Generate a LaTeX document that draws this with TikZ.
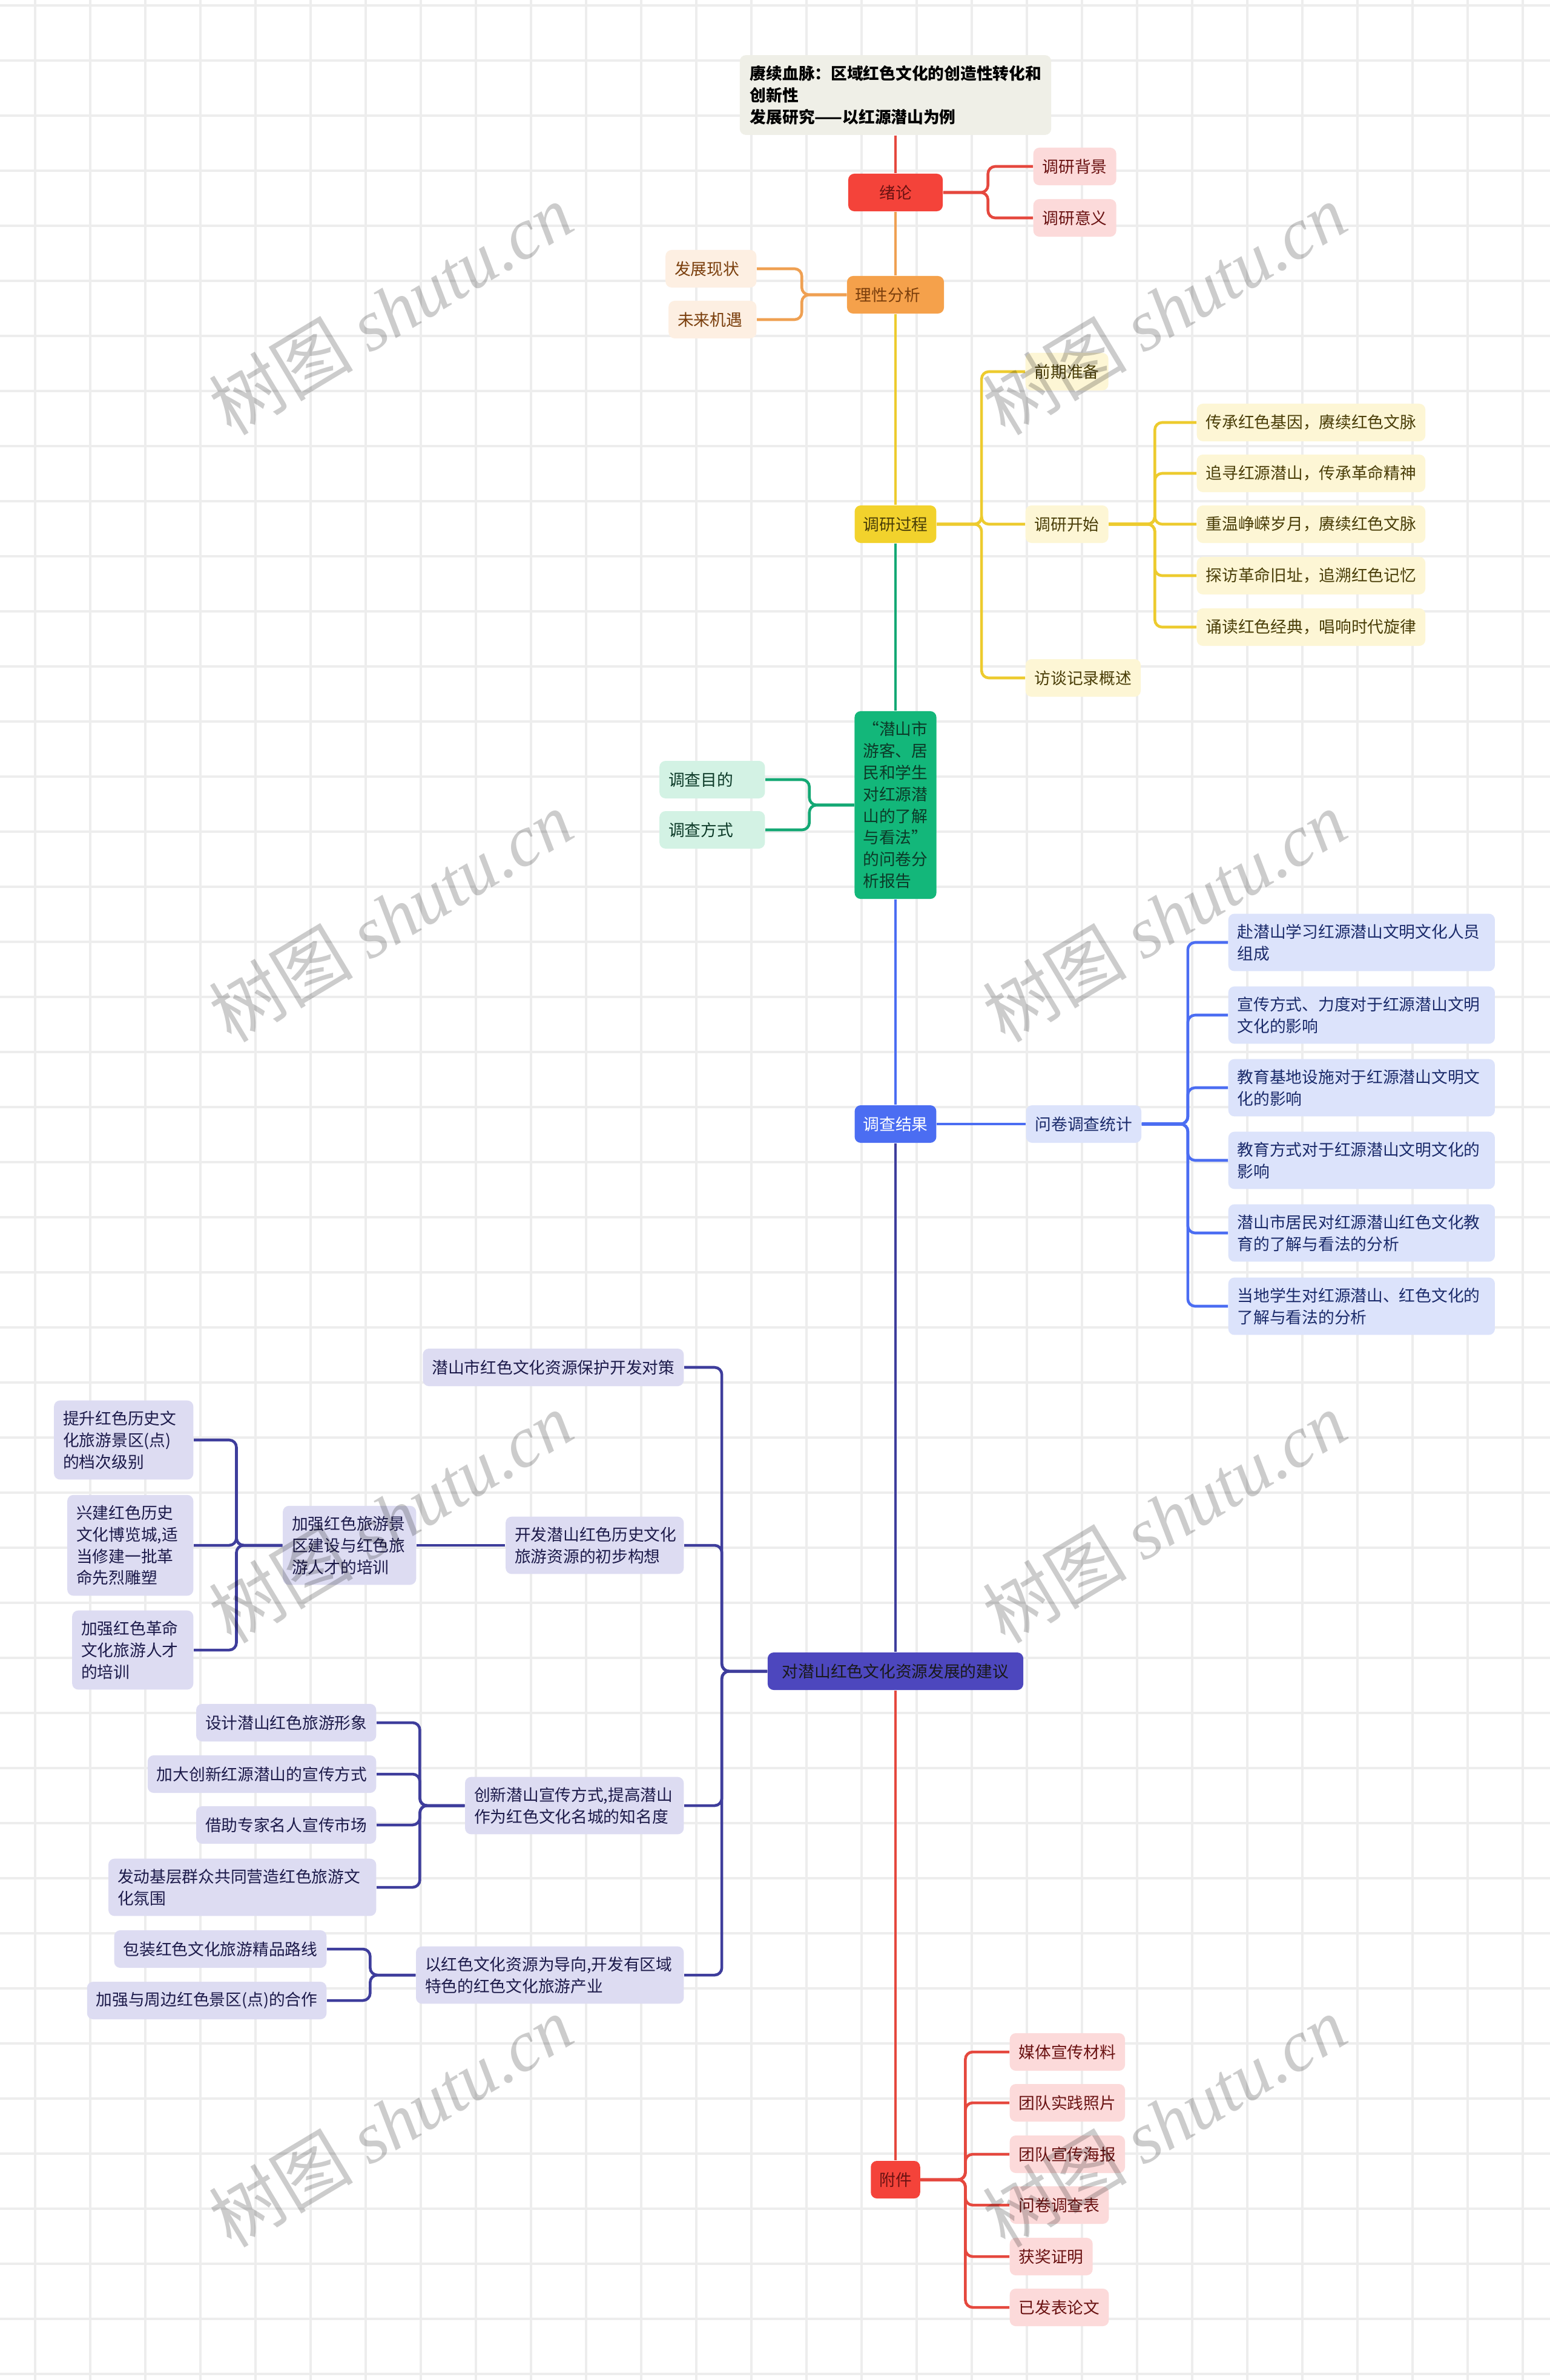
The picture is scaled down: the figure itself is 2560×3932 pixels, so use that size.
\documentclass[tikz,border=0pt]{standalone}
\usepackage{fontspec}
\setmainfont{Noto Sans CJK SC}
\newfontfamily\latinserif{Liberation Serif}
\usepackage{tikz}
\definecolor{hong}{HTML}{F4433A}
\definecolor{hongxian}{HTML}{E5483E}
\definecolor{hongqian}{HTML}{FCDADA}
\definecolor{hongzi}{HTML}{6A1212}
\definecolor{cheng}{HTML}{F5A14B}
\definecolor{chengxian}{HTML}{EFA052}
\definecolor{chengqian}{HTML}{FDEFE2}
\definecolor{chengzi}{HTML}{7A3E0C}
\definecolor{huang}{HTML}{F2D22C}
\definecolor{huangxian}{HTML}{EDCB2E}
\definecolor{huangqian}{HTML}{FDF6D5}
\definecolor{huangzi}{HTML}{4A3E08}
\definecolor{lv}{HTML}{13B77A}
\definecolor{lvxian}{HTML}{14A874}
\definecolor{lvqian}{HTML}{D3F2E4}
\definecolor{lvzi}{HTML}{0C3A28}
\definecolor{lan}{HTML}{4B6DF2}
\definecolor{lanqian}{HTML}{DCE3FB}
\definecolor{lanzi}{HTML}{1A2A6A}
\definecolor{zise}{HTML}{4D47BE}
\definecolor{zixian}{HTML}{3E3D9C}
\definecolor{ziqian}{HTML}{DDDCF2}
\definecolor{zizi}{HTML}{1C1A4A}
\definecolor{biaotidi}{HTML}{EFEFE7}
\definecolor{wangge}{HTML}{EDEDED}

\begin{document}
\begin{tikzpicture}[x=0.01cm, y=-0.01cm,
    font=\fontsize{7.6}{10.2}\selectfont,
    kuang/.style={rounded corners=0.1cm, inner xsep=0.15cm, inner ysep=0.17cm,
                  minimum height=0.62cm, align=left},
    zhu/.style={kuang, inner xsep=0.14cm},
    you/.style={kuang, anchor=west},
    zuo/.style={kuang, anchor=east},
    fenhong/.style={fill=hongqian, text=hongzi},
    fencheng/.style={fill=chengqian, text=chengzi},
    fenhuang/.style={fill=huangqian, text=huangzi},
    fenlv/.style={fill=lvqian, text=lvzi, text width=1.44cm},
    fenlan/.style={fill=lanqian, text=lanzi, text width=4.1cm},
    fenzi/.style={fill=ziqian, text=zizi},
    xian/.style={draw=#1, line width=1.3pt, rounded corners=0.12cm},
    shuiyin/.style={rotate=31, text=black, text opacity=0.2,
                    font=\fontsize{34}{34}\selectfont}
  ]
    \useasboundingbox (0,0) rectangle (2560,3932);
    \fill[white] (0,0) rectangle (2560,3932);
    \foreach \gx in {58,149,...,2560} \draw[wangge, line width=1.1pt] (\gx,0) -- (\gx,3932);
    \foreach \gy in {9,100,...,3932} \draw[wangge, line width=1.1pt] (0,\gy) -- (2560,\gy);

    \node[zhu, fill=biaotidi, inner xsep=0.17cm, text width=4.8cm, font=\fontsize{7.6}{10.2}\selectfont\bfseries]
      (biaoti) at (1479,157) {赓续血脉：区域红色文化的创造性转化和\\创新性\\发展研究——以红源潜山为例};
    \node[zhu, fill=hong, text=hongzi, minimum width=1.56cm, align=center] (xulun) at (1479,318) {绪论};
    \node[zhu, fill=cheng, text=chengzi, text width=1.32cm] (lixing) at (1479,487) {理性分析};
    \node[zhu, fill=huang, text=huangzi] (guocheng) at (1479,866) {调研过程};
    \node[zhu, fill=lv, text=lvzi, text width=1.07cm] (wenjuan) at (1479,1330)
      {“潜山市\\游客、居\\民和学生\\对红源潜\\山的了解\\与看法”\\的问卷分\\析报告};
    \node[zhu, fill=lan, text=white] (jieguo) at (1479,1857) {调查结果};
    \node[zhu, fill=zise, text=black!90, inner xsep=0.24cm] (jianyi) at (1479,2761) {对潜山红色文化资源发展的建议};
    \node[zhu, fill=hong, text=hongzi] (fujian) at (1479,3601) {附件};

    \node[you, fenhong] (beijing) at (1706,275) {调研背景};
    \node[you, fenhong] (yiyi) at (1706,360) {调研意义};
    \node[zuo, fencheng, text width=1.2cm] (xianzhuang) at (1250,444) {发展现状};
    \node[zuo, fencheng, text width=1.15cm] (jiyu) at (1250,528) {未来机遇};

    \node[you, fenhuang] (qianqi) at (1693,614) {前期准备};
    \node[you, fenhuang] (kaishi) at (1693,866) {调研开始};
    \node[you, fenhuang] (fangtan) at (1693,1120) {访谈记录概述};
    \node[you, fenhuang] (jiyin) at (1976,698) {传承红色基因，赓续红色文脉};
    \node[you, fenhuang] (zhuixun) at (1976,782) {追寻红源潜山，传承革命精神};
    \node[you, fenhuang] (chongwen) at (1976,866) {重温峥嵘岁月，赓续红色文脉};
    \node[you, fenhuang] (tanfang) at (1976,951) {探访革命旧址，追溯红色记忆};
    \node[you, fenhuang] (songdu) at (1976,1036) {诵读红色经典，唱响时代旋律};

    \node[zuo, fenlv] (mudi) at (1264,1288) {调查目的};
    \node[zuo, fenlv] (fangshi) at (1264,1371) {调查方式};

    \node[you, fill=lanqian, text=lanzi] (tongji) at (1694,1857) {问卷调查统计};
    \node[you, fenlan] (renyuan) at (2028,1557) {赴潜山学习红源潜山文明文化人员\\组成};
    \node[you, fenlan] (lidu) at (2028,1677) {宣传方式、力度对于红源潜山文明\\文化的影响};
    \node[you, fenlan] (sheshi) at (2028,1797) {教育基地设施对于红源潜山文明文\\化的影响};
    \node[you, fenlan] (jiaoyu) at (2028,1917) {教育方式对于红源潜山文明文化的\\影响};
    \node[you, fenlan] (jumin) at (2028,2037) {潜山市居民对红源潜山红色文化教\\育的了解与看法的分析};
    \node[you, fenlan] (xuesheng) at (2028,2158) {当地学生对红源潜山、红色文化的\\了解与看法的分析};

    \node[zuo, fenzi] (duice) at (1130,2259) {潜山市红色文化资源保护开发对策};
    \node[zuo, fenzi, text width=2.64cm] (gouxiang) at (1130,2553) {开发潜山红色历史文化\\旅游资源的初步构想};
    \node[zuo, fenzi, text width=1.9cm] (jiaqiang) at (688,2553) {加强红色旅游景\\区建设与红色旅\\游人才的培训};
    \node[zuo, fenzi, text width=2.0cm] (tisheng) at (320,2379) {提升红色历史文\\化旅游景区(点)\\的档次级别};
    \node[zuo, fenzi, text width=1.78cm] (xingjian) at (320,2553) {兴建红色历史\\文化博览城,适\\当修建一批革\\命先烈雕塑};
    \node[zuo, fenzi, text width=1.7cm] (rencai) at (320,2726) {加强红色革命\\文化旅游人才\\的培训};
    \node[zuo, fenzi, text width=3.31cm] (chuangxin) at (1130,2983) {创新潜山宣传方式,提高潜山\\作为红色文化名城的知名度};
    \node[zuo, fenzi] (xingxiang) at (622,2846) {设计潜山红色旅游形象};
    \node[zuo, fenzi] (xuanchuan) at (622,2931) {加大创新红源潜山的宣传方式};
    \node[zuo, fenzi] (zhuanjia) at (622,3015) {借助专家名人宣传市场};
    \node[zuo, fenzi, text width=4.12cm] (qunzhong) at (622,3118) {发动基层群众共同营造红色旅游文\\化氛围};
    \node[zuo, fenzi, text width=4.12cm] (chanye) at (1130,3263) {以红色文化资源为导向,开发有区域\\特色的红色文化旅游产业};
    \node[zuo, fenzi] (luxian) at (540,3220) {包装红色文化旅游精品路线};
    \node[zuo, fenzi] (hezuo) at (540,3305) {加强与周边红色景区(点)的合作};

    \node[you, fenhong] (cailiao) at (1667,3390) {媒体宣传材料};
    \node[you, fenhong] (zhaopian) at (1667,3474) {团队实践照片};
    \node[you, fenhong] (haibao) at (1667,3559) {团队宣传海报};
    \node[you, fenhong] (diaochabiao) at (1667,3643) {问卷调查表};
    \node[you, fenhong] (zhengming) at (1667,3728) {获奖证明};
    \node[you, fenhong] (lunwen) at (1667,3812) {已发表论文};

    \draw[xian=hongxian] (biaoti.south) -- (xulun.north);
    \draw[xian=chengxian] (xulun.south) -- (lixing.north);
    \draw[xian=huangxian] (lixing.south) -- (guocheng.north);
    \draw[xian=lvxian] (guocheng.south) -- (wenjuan.north);
    \draw[xian=lan] (wenjuan.south) -- (jieguo.north);
    \draw[xian=zixian] (jieguo.south) -- (jianyi.north);
    \draw[xian=hongxian] (jianyi.south) -- (fujian.north);

    \foreach \c in {beijing,yiyi} \draw[xian=hongxian] (xulun.east) -- ++(74,0) |- (\c.west);
    \foreach \c in {xianzhuang,jiyu} \draw[xian=chengxian] (lixing.west) -- ++(-74,0) |- (\c.east);
    \foreach \c in {qianqi,kaishi,fangtan} \draw[xian=huangxian] (guocheng.east) -- ++(74,0) |- (\c.west);
    \foreach \c in {jiyin,zhuixun,chongwen,tanfang,songdu} \draw[xian=huangxian] (kaishi.east) -- ++(76,0) |- (\c.west);
    \foreach \c in {mudi,fangshi} \draw[xian=lvxian] (wenjuan.west) -- ++(-74,0) |- (\c.east);
    \draw[xian=lan] (jieguo.east) -- (tongji.west);
    \foreach \c in {renyuan,lidu,sheshi,jiaoyu,jumin,xuesheng} \draw[xian=lan] (tongji.east) -- ++(76,0) |- (\c.west);
    \foreach \c in {duice,gouxiang,chuangxin,chanye} \draw[xian=zixian] (jianyi.west) -- ++(-75,0) |- (\c.east);
    \draw[xian=zixian] (gouxiang.west) -- (jiaqiang.east);
    \foreach \c in {tisheng,xingjian,rencai} \draw[xian=zixian] (jiaqiang.west) -- ++(-76,0) |- (\c.east);
    \foreach \c in {xingxiang,xuanchuan,zhuanjia,qunzhong} \draw[xian=zixian] (chuangxin.west) -- ++(-74,0) |- (\c.east);
    \foreach \c in {luxian,hezuo} \draw[xian=zixian] (chanye.west) -- ++(-75,0) |- (\c.east);
    \foreach \c in {cailiao,zhaopian,haibao,diaochabiao,zhengming,lunwen} \draw[xian=hongxian] (fujian.east) -- ++(74,0) |- (\c.west);

    \foreach \sx/\sy in {645/511,1923/511,645/1514,1923/1514,645/2507,1923/2507,645/3505,1923/3505}
      \node[shuiyin] (shuiyin-\sx-\sy) at (\sx,\sy) {树图 {\latinserif\itshape shutu.cn}};
  \end{tikzpicture}
\end{document}
